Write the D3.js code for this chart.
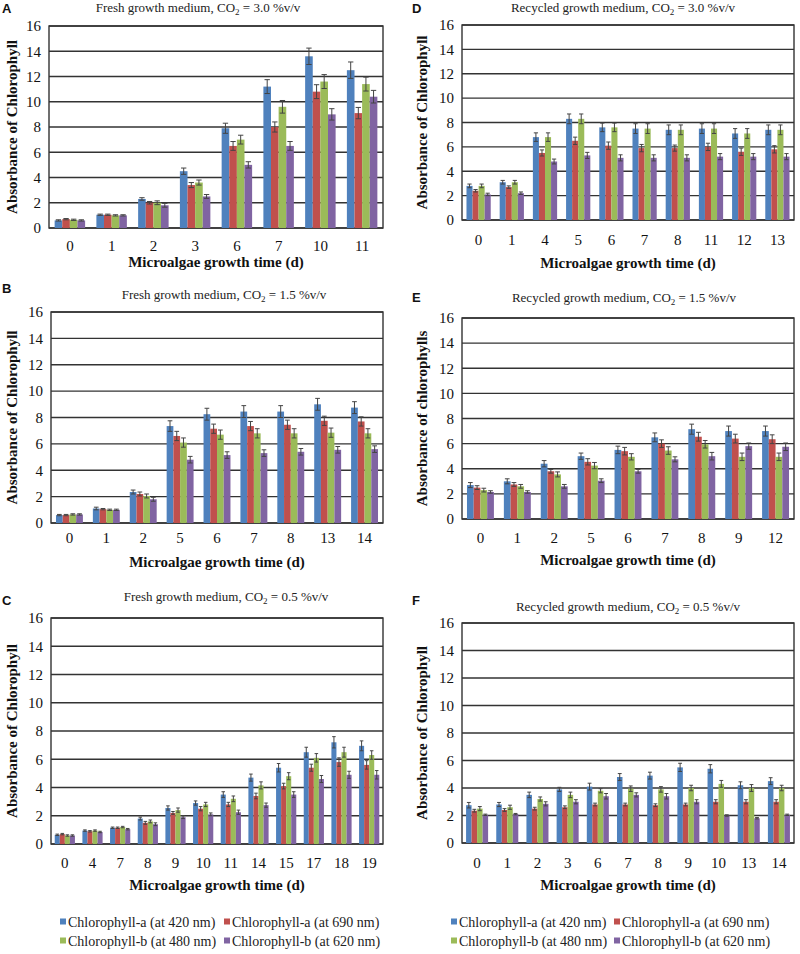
<!DOCTYPE html>
<html><head><meta charset="utf-8">
<script src="https://cdn.jsdelivr.net/npm/d3@7"></script>
<style>
body{margin:0;background:#fff}svg{display:block}
text{font-family:"Liberation Serif","Times New Roman",serif}
text.sans{font-family:"Liberation Sans",Arial,sans-serif}
</style>
</head><body>
<svg id="chart" width="800" height="954"></svg>
<script>
// ---------- data ----------
const seriesNames = ["Chlorophyll-a (at 420 nm)","Chlorophyll-a (at 690 nm)","Chlorophyll-b (at 480 nm)","Chlorophyll-b (at 620 nm)"];
const seriesColors = ["#4F81BD","#C0504D","#9BBB59","#8064A2"];
const yTicks = [0,2,4,6,8,10,12,14,16];

// Panel A
const catsA = ["0","1","2","3","6","7","10","11"];
const a420A = [0.6,1.05,2.3,4.5,7.9,11.2,13.6,12.5];
const a690A = [0.7,1.05,2.0,3.4,6.5,8.0,10.8,9.1];
const b480A = [0.65,1.0,2.0,3.6,7.0,9.6,11.6,11.4];
const b620A = [0.6,1.0,1.8,2.5,5.0,6.5,9.0,10.4];
const eA = [[0.05,0.05,0.1,0.25,0.4,0.55,0.65,0.65],[0.05,0.05,0.1,0.2,0.35,0.4,0.55,0.45],[0.05,0.05,0.15,0.2,0.35,0.5,0.55,0.55],[0.05,0.05,0.15,0.15,0.25,0.35,0.45,0.5]];

// Panel B
const catsB = ["0","1","2","5","6","7","8","13","14"];
const a420B = [0.6,1.1,2.35,7.35,8.25,8.45,8.45,9.0,8.75];
const a690B = [0.6,1.05,2.2,6.6,7.15,7.35,7.45,7.75,7.7];
const b480B = [0.65,1.0,2.05,6.1,6.7,6.8,6.8,6.85,6.8];
const b620B = [0.65,1.0,1.8,4.8,5.15,5.3,5.4,5.55,5.6];
const eB = [[0.05,0.1,0.15,0.4,0.45,0.45,0.45,0.45,0.45],[0.05,0.05,0.15,0.35,0.35,0.35,0.35,0.35,0.35],[0.05,0.05,0.15,0.35,0.35,0.35,0.35,0.35,0.35],[0.05,0.05,0.15,0.25,0.25,0.25,0.25,0.25,0.25]];

// Panel C
const catsC = ["0","4","7","8","9","10","11","14","15","17","18","19"];
const a420C = [0.65,0.95,1.15,1.8,2.55,2.9,3.5,4.7,5.4,6.5,7.2,6.95];
const a690C = [0.7,0.9,1.15,1.5,2.2,2.5,2.8,3.4,4.1,5.4,5.8,5.6];
const b480C = [0.6,0.95,1.2,1.6,2.4,2.8,3.2,4.15,4.8,6.1,6.5,6.3];
const b620C = [0.6,0.85,1.05,1.4,1.9,2.1,2.25,2.75,3.5,4.6,4.9,4.9];
const eC = [[0.05,0.05,0.05,0.1,0.15,0.15,0.2,0.25,0.3,0.35,0.4,0.35],[0.05,0.05,0.05,0.1,0.1,0.15,0.15,0.2,0.2,0.25,0.3,0.3],[0.05,0.05,0.05,0.1,0.15,0.15,0.2,0.25,0.25,0.3,0.35,0.3],[0.05,0.05,0.05,0.1,0.1,0.1,0.15,0.15,0.2,0.25,0.25,0.3]];

// Panel D
const catsD = ["0","1","4","5","6","7","8","11","12","13"];
const a420D = [2.8,3.1,6.8,8.3,7.6,7.5,7.4,7.5,7.1,7.4];
const a690D = [2.4,2.7,5.5,6.5,6.1,5.9,5.9,6.0,5.6,5.8];
const b480D = [2.8,3.1,6.8,8.3,7.6,7.5,7.4,7.5,7.1,7.4];
const b620D = [2.1,2.2,4.8,5.3,5.1,5.1,5.1,5.2,5.2,5.2];
const eD = [[0.15,0.15,0.35,0.4,0.35,0.4,0.4,0.4,0.4,0.4],[0.1,0.1,0.25,0.3,0.3,0.3,0.25,0.3,0.3,0.3],[0.15,0.15,0.35,0.4,0.35,0.4,0.4,0.4,0.4,0.4],[0.1,0.1,0.2,0.25,0.25,0.25,0.25,0.25,0.25,0.25]];

// Panel E
const catsE = ["0","1","2","5","6","7","8","9","12"];
const a420E = [2.7,3.0,4.4,5.0,5.5,6.5,7.15,7.0,7.0];
const a690E = [2.5,2.75,3.8,4.55,5.4,6.0,6.55,6.4,6.35];
const b480E = [2.3,2.6,3.55,4.25,4.95,5.45,5.95,4.95,4.95];
const b620E = [2.15,2.15,2.6,3.05,3.8,4.75,5.0,5.8,5.75];
const eE = [[0.2,0.2,0.25,0.25,0.3,0.35,0.4,0.4,0.4],[0.15,0.15,0.15,0.25,0.3,0.3,0.35,0.35,0.35],[0.15,0.15,0.2,0.25,0.25,0.3,0.3,0.3,0.3],[0.1,0.1,0.15,0.15,0.15,0.2,0.3,0.25,0.3]];

// Panel F
const catsF = ["0","1","2","3","6","7","8","9","10","13","14"];
const a420F = [2.75,2.8,3.5,3.9,4.1,4.8,4.9,5.5,5.4,4.2,4.5];
const a690F = [2.35,2.4,2.5,2.6,2.8,2.8,2.75,2.8,3.0,3.0,3.0];
const b480F = [2.5,2.6,3.2,3.5,3.8,3.95,3.9,4.0,4.3,4.0,4.0];
const b620F = [2.05,2.1,2.85,3.0,3.4,3.5,3.4,3.0,2.0,1.8,2.05];
const eF = [[0.2,0.15,0.2,0.15,0.25,0.25,0.25,0.3,0.3,0.25,0.25],[0.1,0.1,0.1,0.1,0.1,0.1,0.1,0.1,0.15,0.15,0.15],[0.15,0.15,0.15,0.2,0.15,0.2,0.2,0.2,0.25,0.25,0.2],[0.05,0.05,0.15,0.15,0.2,0.15,0.2,0.15,0.05,0.05,0.05]];

const panels = [
  {letter:"A", medium:"Fresh growth medium, CO", co2:" = 3.0 %v/v", ylab:"Absorbance of Chlorophyll", cats:catsA, vals:[a420A,a690A,b480A,b620A], errs:eA,
   L:49,R:383,T:26,B:228, letterX:2,letterY:13, titleX:198,titleY:12, tickY:251, xlabY:267, ylabX:12},
  {letter:"B", medium:"Fresh growth medium, CO", co2:" = 1.5 %v/v", ylab:"Absorbance of Chlorophyll", cats:catsB, vals:[a420B,a690B,b480B,b620B], errs:eB,
   L:51,R:383,T:312,B:523, letterX:2,letterY:293, titleX:224,titleY:299, tickY:543, xlabY:567, ylabX:12},
  {letter:"C", medium:"Fresh growth medium, CO", co2:" = 0.5 %v/v", ylab:"Absorbance of Chlorophyll", cats:catsC, vals:[a420C,a690C,b480C,b620C], errs:eC,
   L:51,R:383,T:618,B:844, letterX:2,letterY:605, titleX:226,titleY:601, tickY:868, xlabY:890, ylabX:12},
  {letter:"D", medium:"Recycled growth medium, CO", co2:" = 3.0 %v/v", ylab:"Absorbance of Chlorophyll", cats:catsD, vals:[a420D,a690D,b480D,b620D], errs:eD,
   L:462,R:794,T:25,B:220, letterX:412,letterY:13, titleX:623,titleY:12, tickY:245, xlabY:268, ylabX:422},
  {letter:"E", medium:"Recycled growth medium, CO", co2:" = 1.5 %v/v", ylab:"Absorbance of chlorophylls", cats:catsE, vals:[a420E,a690E,b480E,b620E], errs:eE,
   L:462,R:794,T:318,B:519, letterX:412,letterY:302, titleX:624,titleY:302, tickY:543, xlabY:565, ylabX:422},
  {letter:"F", medium:"Recycled growth medium, CO", co2:" = 0.5 %v/v", ylab:"Absorbance of Chlorophyll", cats:catsF, vals:[a420F,a690F,b480F,b620F], errs:eF,
   L:462,R:794,T:623,B:843, letterX:412,letterY:605, titleX:628,titleY:611, tickY:868, xlabY:890, ylabX:422}
];

const svg = d3.select("#chart");
const gridColor = "#333";

panels.forEach(p => {
  const g = svg.append("g");
  const y = d3.scaleLinear().domain([0,16]).range([p.B,p.T]);
  const x0 = d3.scaleBand().domain(p.cats).range([p.L,p.R]).paddingInner(0.27).paddingOuter(0.135);
  const x1 = d3.scaleBand().domain(d3.range(4)).range([0,x0.bandwidth()]);

  // gridlines
  g.append("g").selectAll("line").data(yTicks).join("line")
    .attr("x1",p.L).attr("x2",p.R).attr("y1",d=>y(d)).attr("y2",d=>y(d))
    .attr("stroke",gridColor).attr("stroke-width",1.4);

  // frame
  g.append("rect").attr("x",p.L).attr("y",p.T).attr("width",p.R-p.L).attr("height",p.B-p.T)
    .attr("fill","none").attr("stroke",gridColor).attr("stroke-width",1.4);

  // bars
  const rows = [];
  p.cats.forEach((c,i)=>{ for(let s=0;s<4;s++) rows.push({c, s, v:p.vals[s][i], e:p.errs[s][i]}); });
  g.append("g").selectAll("rect").data(rows).join("rect")
    .attr("x",d=>x0(d.c)+x1(d.s)).attr("width",x1.bandwidth())
    .attr("y",d=>y(d.v)).attr("height",d=>y(0)-y(d.v))
    .attr("fill",d=>seriesColors[d.s]);

  // error bars
  const eg = g.append("g").attr("stroke","#444").attr("stroke-width",1);
  const capW = Math.min(3, x1.bandwidth()*0.35);
  rows.forEach(d=>{
    const cx = x0(d.c)+x1(d.s)+x1.bandwidth()/2;
    eg.append("line").attr("x1",cx).attr("x2",cx).attr("y1",y(d.v+d.e)).attr("y2",y(Math.max(0,d.v-d.e)));
    eg.append("line").attr("x1",cx-capW).attr("x2",cx+capW).attr("y1",y(d.v+d.e)).attr("y2",y(d.v+d.e));
    eg.append("line").attr("x1",cx-capW).attr("x2",cx+capW).attr("y1",y(Math.max(0,d.v-d.e))).attr("y2",y(Math.max(0,d.v-d.e)));
  });

  // y axis
  const ya = g.append("g").attr("transform",`translate(${p.L},0)`)
    .call(d3.axisLeft(y).tickValues(yTicks).tickSize(0).tickPadding(8).tickFormat(d3.format("d")));
  ya.attr("font-family",null).attr("font-size",null);
  ya.select(".domain").remove();
  ya.selectAll("text").style("font-size","15px").attr("fill","#111");

  // x axis
  const xa = g.append("g").attr("transform",`translate(0,${p.B})`)
    .call(d3.axisBottom(x0).tickSize(0).tickPadding(0));
  xa.attr("font-family",null).attr("font-size",null);
  xa.select(".domain").remove();
  xa.selectAll("text").style("font-size","15px").attr("fill","#111")
    .attr("y",p.tickY-p.B).attr("dy","0");

  // x label
  g.append("text").attr("x",(p.L+p.R)/2).attr("y",p.xlabY).attr("text-anchor","middle")
    .style("font-weight","bold").style("font-size","15px").attr("fill","#111")
    .text("Microalgae growth time (d)");

  // y label
  g.append("text").attr("transform",`translate(${p.ylabX+5},${(p.T+p.B)/2}) rotate(-90)`)
    .attr("text-anchor","middle").style("font-weight","bold").style("font-size","15px").attr("fill","#111")
    .text(p.ylab);

  // title
  const t = g.append("text").attr("x",p.titleX).attr("y",p.titleY).attr("text-anchor","middle")
    .style("font-size","13px").attr("fill","#222");
  t.append("tspan").text(p.medium);
  t.append("tspan").style("font-size","9px").attr("dy",3).text("2");
  t.append("tspan").attr("dy",-3).text(p.co2);

  // panel letter
  g.append("text").attr("class","sans").attr("x",p.letterX).attr("y",p.letterY)
    .style("font-weight","bold").style("font-size","13px").attr("fill","#111")
    .text(p.letter);
});

// legends
const legendPos = [{x1:60,x2:224},{x1:451,x2:614}];
const rowsY = [922,941];
legendPos.forEach(lp=>{
  const lg = svg.append("g");
  seriesNames.forEach((n,i)=>{
    const cx = (i%2===0)?lp.x1:lp.x2;
    const cy = rowsY[Math.floor(i/2)];
    lg.append("rect").attr("x",cx).attr("y",cy-3.5).attr("width",6).attr("height",6).attr("fill",seriesColors[i]);
    lg.append("text").attr("x",cx+8).attr("y",cy+4.5).style("font-size","14px").attr("fill","#222").text(n);
  });
});
</script>
</body></html>
